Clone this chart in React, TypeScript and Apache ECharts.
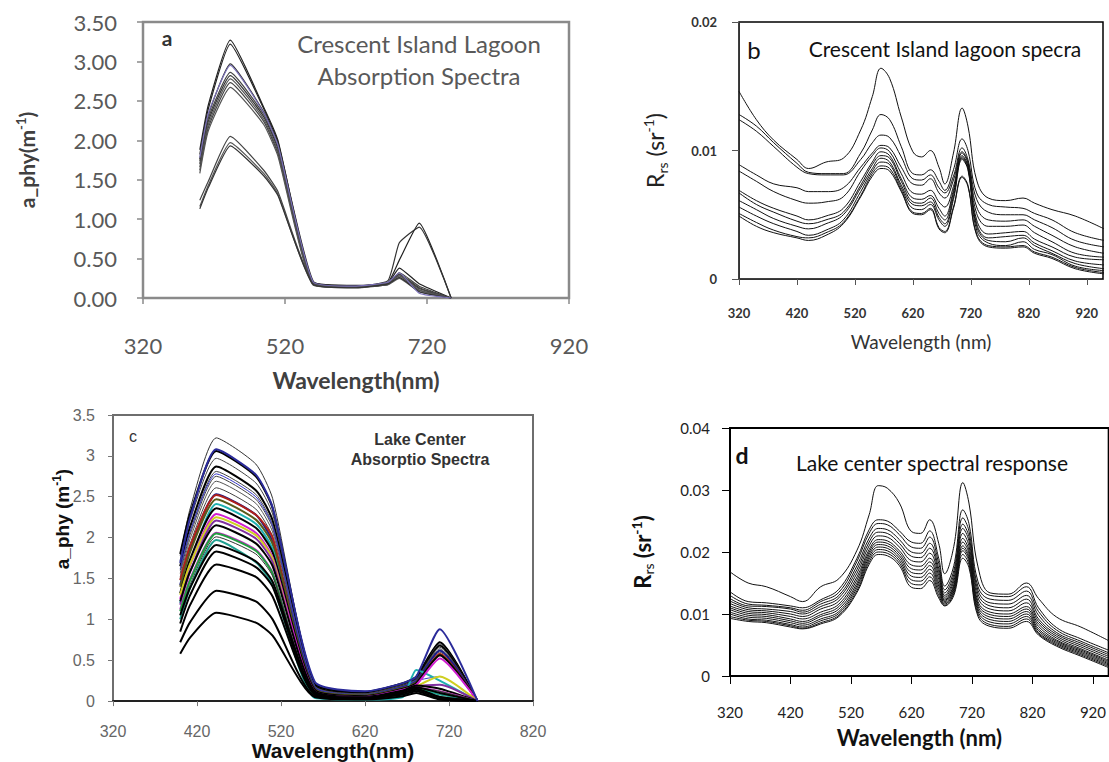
import React, { useEffect, useRef } from "react";
import * as echarts from "echarts";

// ---------- DATA ----------
// band centres (nm) used by the absorption spectra (panels a, c)
const bandWavelengths = [400, 412, 443, 490, 510, 560, 620, 665, 681, 709, 754];
// wavelengths (nm) sampled for the reflectance spectra (panels b, d)
const rrsWavelengths = [320, 350, 380, 420, 440, 470, 500, 530, 550, 565, 580, 600, 620, 635, 650, 665, 675, 690, 705, 715, 730, 750, 780, 810, 830, 860, 900, 950];

// panel a: Crescent Island lagoon a_phy (m^-1)
const lagoonAphy = [
  [1.88, 2.45, 3.27, 2.42, 2.0, 0.2, 0.16, 0.19, 0.38, 0.18, 0.0],
  [1.82, 2.4, 3.22, 2.4, 1.98, 0.21, 0.15, 0.2, 0.48, 0.95, 0.0],
  [1.76, 2.32, 2.97, 2.36, 1.95, 0.19, 0.15, 0.22, 0.7, 0.9, 0.0],
  [1.74, 2.28, 2.86, 2.33, 1.92, 0.18, 0.14, 0.18, 0.32, 0.15, 0.0],
  [1.7, 2.24, 2.82, 2.3, 1.89, 0.18, 0.14, 0.17, 0.3, 0.13, 0.0],
  [1.66, 2.2, 2.78, 2.27, 1.86, 0.17, 0.14, 0.2, 0.28, 0.12, 0.0],
  [1.62, 2.16, 2.73, 2.24, 1.83, 0.17, 0.13, 0.18, 0.26, 0.1, 0.0],
  [1.58, 2.12, 2.67, 2.2, 1.8, 0.16, 0.13, 0.17, 0.25, 0.08, 0.0],
  [1.24, 1.48, 2.05, 1.62, 1.35, 0.18, 0.14, 0.2, 0.3, 0.12, 0.0],
  [1.16, 1.43, 1.97, 1.58, 1.32, 0.17, 0.14, 0.19, 0.28, 0.1, 0.0],
  [1.13, 1.4, 1.93, 1.55, 1.3, 0.17, 0.13, 0.18, 0.26, 0.08, 0.0],
  [1.78, 2.34, 2.95, 2.35, 1.94, 0.2, 0.15, 0.2, 0.32, 0.06, 0.0],
];

// panel b: Crescent Island lagoon Rrs (x1e-3 sr^-1)
const lagoonRrs = [
  [14.6, 12.4, 10.8, 9.3, 8.6, 9.1, 9.4, 11.6, 14.2, 16.4, 15.6, 12.6, 9.9, 9.5, 10.0, 8.7, 7.4, 9.8, 13.3, 11.9, 7.7, 6.3, 6.1, 6.3, 5.9, 5.4, 4.9, 3.9],
  [12.8, 11.9, 10.6, 9.0, 8.3, 8.2, 8.2, 9.8, 11.6, 12.8, 12.4, 10.3, 8.2, 8.1, 8.5, 7.6, 6.9, 8.5, 10.9, 10.0, 6.7, 5.8, 5.6, 5.5, 5.1, 4.6, 3.6, 3.0],
  [12.4, 11.5, 10.3, 8.7, 8.2, 8.1, 8.1, 9.3, 10.6, 11.2, 11.0, 9.5, 7.8, 7.7, 8.1, 7.1, 6.7, 8.0, 10.2, 9.3, 6.2, 5.2, 5.0, 5.0, 4.6, 4.0, 3.0, 2.5],
  [8.9, 8.1, 7.4, 7.1, 6.8, 6.8, 7.1, 8.7, 9.8, 10.4, 10.2, 8.7, 7.4, 7.3, 7.8, 6.7, 6.3, 7.7, 9.9, 9.1, 5.6, 4.6, 4.5, 4.6, 4.1, 3.4, 2.5, 2.0],
  [8.4, 7.6, 6.8, 6.1, 5.9, 6.0, 6.4, 8.4, 9.6, 10.2, 9.9, 8.2, 6.7, 6.6, 6.9, 6.0, 5.6, 7.2, 9.8, 9.0, 5.1, 4.1, 4.1, 4.2, 3.6, 2.9, 2.0, 1.7],
  [6.9, 6.1, 5.5, 4.9, 4.6, 4.9, 5.5, 7.6, 9.1, 9.9, 9.6, 7.8, 6.3, 6.2, 6.5, 5.5, 4.9, 6.9, 9.6, 8.8, 4.6, 3.5, 3.6, 3.7, 3.1, 2.5, 1.7, 1.5],
  [6.7, 5.8, 5.2, 4.5, 4.3, 4.6, 5.2, 7.3, 8.9, 9.6, 9.4, 7.6, 6.0, 5.9, 6.3, 5.1, 4.6, 6.7, 9.5, 8.7, 4.3, 3.2, 3.3, 3.4, 2.8, 2.2, 1.4, 1.1],
  [6.1, 5.4, 4.7, 4.1, 3.9, 4.3, 5.0, 7.1, 8.6, 9.4, 9.1, 7.3, 5.8, 5.7, 6.0, 4.8, 4.3, 6.4, 9.4, 8.6, 4.1, 3.0, 2.9, 3.2, 2.6, 2.0, 1.2, 0.8],
  [5.6, 4.9, 4.3, 3.7, 3.4, 3.8, 4.6, 6.8, 8.4, 9.1, 8.9, 7.1, 5.5, 5.4, 5.8, 4.6, 4.1, 6.2, 9.3, 8.5, 3.8, 2.8, 2.6, 2.9, 2.3, 1.9, 1.0, 0.65],
  [5.1, 4.4, 3.8, 3.3, 3.2, 3.6, 4.4, 6.5, 8.2, 8.8, 8.6, 6.9, 5.2, 5.1, 5.5, 4.0, 3.7, 5.6, 8.0, 7.3, 3.5, 2.6, 2.5, 2.6, 2.1, 1.7, 0.9, 0.5],
  [4.9, 4.1, 3.6, 3.2, 3.0, 3.4, 4.3, 6.4, 8.0, 8.6, 8.4, 6.8, 5.1, 5.0, 5.4, 3.9, 3.6, 5.5, 7.9, 7.2, 3.4, 2.5, 2.4, 2.5, 2.0, 1.6, 0.8, 0.4],
];

// panel c: lake centre a_phy (m^-1)
const centerAphy = [
  [1.78, 2.36, 3.22, 2.9, 2.48, 0.22, 0.12, 0.22, 0.3, 0.72, 0],
  [1.8, 2.3, 3.06, 2.75, 2.36, 0.22, 0.11, 0.22, 0.3, 0.72, 0],
  [1.72, 2.22, 2.97, 2.67, 2.29, 0.2, 0.1, 0.21, 0.28, 0.7, 0],
  [1.65, 2.14, 2.87, 2.58, 2.21, 0.2, 0.1, 0.2, 0.28, 0.68, 0],
  [1.6, 2.08, 2.81, 2.53, 2.16, 0.19, 0.09, 0.2, 0.27, 0.66, 0],
  [1.56, 2.04, 2.75, 2.47, 2.12, 0.18, 0.09, 0.19, 0.26, 0.64, 0],
  [1.52, 1.99, 2.69, 2.42, 2.07, 0.18, 0.08, 0.18, 0.25, 0.62, 0],
  [1.48, 1.93, 2.61, 2.35, 2.01, 0.17, 0.08, 0.18, 0.25, 0.6, 0],
  [1.62, 2.08, 2.78, 2.5, 2.14, 0.18, 0.08, 0.18, 0.25, 0.3, 0],
  [1.42, 1.86, 2.53, 2.28, 1.95, 0.16, 0.07, 0.17, 0.24, 0.62, 0],
  [1.48, 1.9, 2.52, 2.28, 2.0, 0.08, 0.02, 0.1, 0.2, 0.58, 0],
  [1.4, 1.83, 2.47, 2.22, 1.92, 0.15, 0.07, 0.16, 0.23, 0.56, 0],
  [1.2, 1.68, 2.41, 2.17, 1.86, 0.04, 0.02, 0.05, 0.38, 0.25, 0],
  [1.32, 1.74, 2.36, 2.12, 1.82, 0.14, 0.06, 0.15, 0.22, 0.56, 0],
  [1.25, 1.67, 2.29, 2.06, 1.76, 0.12, 0.05, 0.14, 0.2, 0.52, 0],
  [1.3, 1.68, 2.25, 2.03, 1.74, 0.08, 0.04, 0.1, 0.18, 0.3, 0],
  [1.18, 1.59, 2.21, 1.99, 1.7, 0.1, 0.05, 0.12, 0.18, 0.2, 0],
  [1.22, 1.59, 2.15, 1.93, 1.65, 0.12, 0.05, 0.13, 0.19, 0.15, 0],
  [1.12, 1.5, 2.06, 1.85, 1.57, 0.08, 0.04, 0.1, 0.16, 0.12, 0],
  [1.1, 1.48, 2.05, 1.84, 1.56, 0.07, 0.03, 0.08, 0.15, 0.1, 0],
  [1.05, 1.43, 2.01, 1.8, 1.53, 0.1, 0.04, 0.1, 0.16, 0.12, 0],
  [1.0, 1.39, 1.97, 1.7, 1.42, 0.05, 0.02, 0.06, 0.14, 0.08, 0],
  [1.05, 1.39, 1.91, 1.71, 1.46, 0.1, 0.04, 0.12, 0.17, 0.1, 0],
  [0.95, 1.3, 1.83, 1.64, 1.4, 0.09, 0.04, 0.1, 0.15, 0.05, 0],
  [0.85, 1.18, 1.67, 1.52, 1.28, 0.08, 0.03, 0.1, 0.14, 0.05, 0],
  [0.72, 0.97, 1.35, 1.22, 1.0, 0.06, 0.03, 0.08, 0.12, 0.03, 0],
  [0.58, 0.78, 1.08, 0.96, 0.8, 0.05, 0.02, 0.06, 0.1, 0.02, 0],
  [1.69, 2.25, 3.08, 2.77, 2.37, 0.24, 0.12, 0.22, 0.3, 0.88, 0],
];

// panel d: lake centre Rrs (x1e-3 sr^-1)
const centerRrs = [
  [16.8, 15.0, 14.4, 12.8, 12.0, 14.4, 15.7, 20.3, 26.0, 30.7, 30.3, 27.9, 23.3, 23.0, 25.2, 21.4, 16.5, 20.9, 31.2, 27.9, 17.6, 13.4, 13.2, 15.0, 12.5, 9.5, 7.9, 5.5],
  [13.6, 12.0, 11.8, 11.3, 11.0, 12.3, 14.0, 19.0, 23.6, 25.2, 25.0, 23.4, 21.6, 21.4, 23.4, 19.0, 14.5, 17.8, 26.8, 24.6, 15.2, 13.0, 12.8, 14.4, 11.0, 7.8, 6.0, 4.0],
  [13.0, 11.6, 11.4, 11.0, 10.6, 12.0, 13.5, 18.5, 23.0, 24.6, 24.4, 22.8, 20.8, 20.6, 22.4, 18.2, 13.9, 17.0, 25.5, 23.4, 14.4, 12.4, 12.2, 13.7, 10.4, 7.4, 5.6, 3.6],
  [12.5, 11.3, 11.2, 10.8, 10.3, 11.6, 13.0, 17.8, 22.2, 23.8, 23.6, 22.0, 20.0, 19.8, 21.4, 17.4, 13.4, 16.4, 24.5, 22.5, 13.8, 11.8, 11.6, 13.0, 9.8, 7.0, 5.3, 3.3],
  [12.1, 11.0, 10.8, 10.4, 10.0, 11.2, 12.6, 17.2, 21.6, 23.2, 23.0, 21.4, 19.3, 19.1, 20.6, 16.8, 13.0, 15.8, 23.8, 21.8, 13.2, 11.3, 11.0, 12.4, 9.2, 6.7, 5.0, 3.0],
  [11.7, 10.7, 10.5, 10.0, 9.6, 10.8, 12.1, 16.6, 21.0, 22.6, 22.4, 20.8, 18.6, 18.4, 19.8, 16.2, 12.7, 15.3, 23.0, 21.0, 12.6, 10.8, 10.5, 11.8, 8.8, 6.4, 4.7, 2.7],
  [11.3, 10.4, 10.2, 9.6, 9.2, 10.3, 11.6, 16.0, 20.4, 22.0, 21.8, 20.2, 17.9, 17.7, 19.0, 15.6, 12.4, 14.8, 22.2, 20.3, 12.0, 10.3, 10.0, 11.2, 8.4, 6.1, 4.4, 2.4],
  [11.0, 10.1, 9.9, 9.2, 8.8, 9.9, 11.2, 15.5, 20.0, 21.6, 21.4, 19.8, 17.3, 17.1, 18.4, 15.0, 12.2, 14.5, 21.6, 19.8, 11.6, 9.9, 9.6, 10.8, 8.0, 5.8, 4.2, 2.2],
  [10.7, 9.8, 9.6, 8.9, 8.5, 9.6, 10.8, 15.0, 19.6, 21.2, 21.0, 19.4, 16.7, 16.5, 17.8, 14.5, 12.0, 14.2, 21.0, 19.3, 11.2, 9.5, 9.2, 10.4, 7.6, 5.6, 4.0, 2.0],
  [10.3, 9.5, 9.3, 8.6, 8.2, 9.2, 10.4, 14.6, 19.2, 20.8, 20.6, 19.0, 16.1, 15.9, 17.2, 14.0, 11.8, 13.9, 20.6, 18.9, 10.8, 9.1, 8.8, 10.0, 7.3, 5.4, 3.8, 1.8],
  [10.0, 9.2, 9.0, 8.3, 7.9, 8.9, 10.1, 14.2, 18.8, 20.4, 20.2, 18.6, 15.5, 15.3, 16.6, 13.5, 11.6, 13.6, 20.2, 18.5, 10.4, 8.7, 8.4, 9.6, 7.0, 5.2, 3.6, 1.6],
  [9.6, 9.0, 8.8, 8.1, 7.7, 8.6, 9.8, 13.8, 18.4, 20.0, 19.8, 18.2, 14.9, 14.7, 16.0, 13.0, 11.4, 13.3, 19.6, 18.0, 10.0, 8.3, 8.0, 9.2, 6.8, 5.0, 3.4, 1.4],
  [9.3, 8.8, 8.6, 7.9, 7.6, 8.4, 9.6, 13.5, 18.0, 19.6, 19.4, 17.8, 14.3, 14.1, 15.4, 12.6, 11.3, 13.0, 19.0, 17.5, 9.6, 8.0, 7.7, 8.8, 6.6, 4.8, 3.2, 1.2],
];

// axis tick values
const absorptionTicksA = [0, 0.5, 1, 1.5, 2, 2.5, 3, 3.5];
const wavelengthTicksA = [320, 520, 720, 920];

// line appearance (kept apart from the data)
const lagoonAphyColors = ["#222", "#222", "#333", "#444", "#333", "#555", "#444", "#555", "#444", "#555", "#333", "#7a70b8"];
const centerAphyColors = ["#333", "#000", "#444", "#000", "#444", "#444", "#555", "#444", "#3a3ac8", "#1a1a8c", "#b0201a", "#5a5a1a", "#1fb0b0", "#000", "#d020d0", "#d0d020", "#8030a0", "#000", "#c030c0", "#20a040", "#333", "#20a090", "#000", "#000", "#000", "#000", "#000", "#2b2b9a"];
const centerAphyWidths = [1, 2, 1, 2, 1, 1, 1, 1, 1, 2, 2, 2, 2, 2, 2, 2, 2, 2, 2, 2, 1, 2, 2, 2, 2, 2, 2, 2];

function buildSeries(idx: number, xs: number[], rows: number[][], colors: string[], widths: number[], smooth: number, scale: number) {
  return rows.map((row, i) => ({
    type: "line",
    xAxisIndex: idx,
    yAxisIndex: idx,
    data: xs.map((x, k) => [x, row[k] * scale]),
    showSymbol: false,
    symbol: "none",
    smooth,
    silent: true,
    lineStyle: { color: colors[i % colors.length], width: widths[i % widths.length] },
  }));
}

const LATO = "Lato";
const ARIAL = "Liberation Sans";

export default function App() {
  const ref = useRef<HTMLDivElement>(null);
  useEffect(() => {
    if (!ref.current) return;
    const chart = echarts.init(ref.current, undefined, { renderer: "svg" });
    const rrsFmt = (v: number) => (v === 0 ? "0" : v.toFixed(2));
    const option: any = {
      animation: false,
      backgroundColor: "#fff",
      grid: [
        { left: 143, top: 22, width: 426, height: 276, show: true, borderColor: "#8a8a8a", borderWidth: 2.5 },
        { left: 739, top: 22, width: 364, height: 257, show: true, borderColor: "#000", borderWidth: 1.5 },
        { left: 113, top: 415, width: 420, height: 287, show: true, borderColor: "#6e6e6e", borderWidth: 2 },
        { left: 730, top: 428, width: 384, height: 248, show: true, borderColor: "#000", borderWidth: 2 },
      ],
      xAxis: [
        {
          gridIndex: 0, type: "value", min: wavelengthTicksA[0], max: wavelengthTicksA[wavelengthTicksA.length - 1], interval: 200,
          axisLine: { show: true, lineStyle: { color: "#8a8a8a", width: 2 } },
          axisTick: { show: true, inside: false, length: 6, lineStyle: { color: "#8a8a8a", width: 1.5 } },
          splitLine: { show: false },
          axisLabel: { margin: 36, fontFamily: LATO, fontSize: 22, color: "#595959" },
          name: "Wavelength(nm)", nameLocation: "middle", nameGap: 70,
          nameTextStyle: { fontFamily: LATO, fontWeight: "bold", fontSize: 23, color: "#404040" },
        },
        {
          gridIndex: 1, type: "value", min: 320, max: 948, interval: 100,
          axisLine: { show: true, lineStyle: { color: "#333", width: 1 } },
          axisTick: { show: true, inside: false, length: 6, lineStyle: { color: "#555", width: 1 } },
          splitLine: { show: false },
          axisLabel: { margin: 27, fontFamily: LATO, fontSize: 13, fontWeight: "bold", color: "#333", showMaxLabel: false },
          name: "Wavelength (nm)", nameLocation: "middle", nameGap: 53,
          nameTextStyle: { fontFamily: LATO, fontSize: 19, color: "#333" },
        },
        {
          gridIndex: 2, type: "value", min: 320, max: 820, interval: 100,
          axisLine: { show: true, lineStyle: { color: "#222", width: 2 } },
          axisTick: { show: true, inside: false, length: 5, lineStyle: { color: "#777", width: 1 } },
          splitLine: { show: false },
          axisLabel: { margin: 22, fontFamily: ARIAL, fontSize: 16, color: "#666" },
          name: "Wavelength(nm)", nameLocation: "middle", nameGap: 38,
          nameTextStyle: { fontFamily: ARIAL, fontWeight: "bold", fontSize: 21, color: "#111", padding: [0, 0, 0, 20] },
        },
        {
          gridIndex: 3, type: "value", min: 320, max: 946, interval: 100,
          axisLine: { show: true, lineStyle: { color: "#000", width: 2 } },
          axisTick: { show: true, inside: false, length: 8, lineStyle: { color: "#000", width: 1 } },
          splitLine: { show: false },
          axisLabel: { margin: 28, fontFamily: LATO, fontSize: 15, color: "#222", showMaxLabel: false },
          name: "Wavelength (nm)", nameLocation: "middle", nameGap: 50,
          nameTextStyle: { fontFamily: LATO, fontWeight: "bold", fontSize: 22, color: "#111" },
        },
      ],
      yAxis: [
        {
          gridIndex: 0, type: "value", min: absorptionTicksA[0], max: absorptionTicksA[absorptionTicksA.length - 1], interval: 0.5,
          axisLine: { show: true, lineStyle: { color: "#8a8a8a", width: 2 } },
          axisTick: { show: true, inside: false, length: 6, lineStyle: { color: "#8a8a8a", width: 1.5 } },
          splitLine: { show: false },
          axisLabel: { margin: 26, fontFamily: LATO, fontSize: 22, color: "#595959", formatter: (v: number) => v.toFixed(2) },
          name: "{n|a_phy(m}{p|-1}{n|)}", nameLocation: "middle", nameRotate: 90, nameGap: 105,
          nameTextStyle: {
            rich: {
              n: { fontFamily: LATO, fontWeight: "bold", fontSize: 21, color: "#404040", lineHeight: 24 },
              p: { fontFamily: LATO, fontWeight: "bold", fontSize: 13, color: "#404040", lineHeight: 13, verticalAlign: "top" },
            },
          },
        },
        {
          gridIndex: 1, type: "value", min: 0, max: 0.02, interval: 0.01,
          axisLine: { show: true, lineStyle: { color: "#333", width: 1 } },
          axisTick: { show: true, inside: false, length: 7, lineStyle: { color: "#555", width: 1 } },
          splitLine: { show: false },
          axisLabel: { margin: 22, fontFamily: LATO, fontSize: 13, fontWeight: "bold", color: "#333", formatter: rrsFmt },
          name: "{n|R}{s|rs}{n| (sr}{p|-1}{n|)}", nameLocation: "middle", nameRotate: 90, nameGap: 70,
          nameTextStyle: {
            rich: {
              n: { fontFamily: LATO, fontSize: 23, color: "#222", lineHeight: 28 },
              s: { fontFamily: LATO, fontSize: 14, color: "#222", lineHeight: 14, verticalAlign: "bottom" },
              p: { fontFamily: LATO, fontSize: 14, color: "#222", lineHeight: 14, verticalAlign: "top" },
            },
          },
        },
        {
          gridIndex: 2, type: "value", min: 0, max: 3.5, interval: 0.5,
          axisLine: { show: true, lineStyle: { color: "#6e6e6e", width: 2 } },
          axisTick: { show: true, inside: false, length: 5, lineStyle: { color: "#777", width: 1 } },
          splitLine: { show: false },
          axisLabel: { margin: 18, fontFamily: ARIAL, fontSize: 16, color: "#666" },
        },
        {
          gridIndex: 3, type: "value", min: 0, max: 0.04, interval: 0.01,
          axisLine: { show: true, lineStyle: { color: "#000", width: 2 } },
          axisTick: { show: true, inside: false, length: 8, lineStyle: { color: "#000", width: 1 } },
          splitLine: { show: false },
          axisLabel: { margin: 20, fontFamily: LATO, fontSize: 15, color: "#222", formatter: rrsFmt },
          name: "{n|R}{s|rs}{n| (sr}{p|-1}{n|)}", nameLocation: "middle", nameRotate: 90, nameGap: 75,
          nameTextStyle: {
            rich: {
              n: { fontFamily: LATO, fontWeight: "bold", fontSize: 22, color: "#111", lineHeight: 26 },
              s: { fontFamily: LATO, fontSize: 14, color: "#111", lineHeight: 14, verticalAlign: "bottom" },
              p: { fontFamily: LATO, fontWeight: "bold", fontSize: 14, color: "#111", lineHeight: 14, verticalAlign: "top" },
            },
          },
        },
      ],
      graphic: [
        { type: "text", x: 167, y: 37, style: { text: "a", fontFamily: LATO, fontWeight: "bold", fontSize: 21, fill: "#333", align: "center", verticalAlign: "middle" } },
        { type: "text", x: 419, y: 43, style: { text: "Crescent Island Lagoon", fontFamily: LATO, fontSize: 24, fill: "#595959", align: "center", verticalAlign: "middle" } },
        { type: "text", x: 419, y: 75, style: { text: "Absorption Spectra", fontFamily: LATO, fontSize: 24, fill: "#595959", align: "center", verticalAlign: "middle" } },
        { type: "text", x: 754, y: 49, style: { text: "b", fontFamily: LATO, fontSize: 24, fill: "#111", align: "center", verticalAlign: "middle" } },
        { type: "text", x: 945, y: 48, style: { text: "Crescent Island lagoon specra", fontFamily: LATO, fontSize: 21, fill: "#111", align: "center", verticalAlign: "middle" } },
        { type: "text", x: 133, y: 436, style: { text: "c", fontFamily: ARIAL, fontSize: 16, fill: "#333", align: "center", verticalAlign: "middle" } },
        { type: "text", x: 420, y: 439, style: { text: "Lake Center", fontFamily: ARIAL, fontWeight: "bold", fontSize: 16, fill: "#333", align: "center", verticalAlign: "middle" } },
        { type: "text", x: 420, y: 459, style: { text: "Absorptio Spectra", fontFamily: ARIAL, fontWeight: "bold", fontSize: 16, fill: "#333", align: "center", verticalAlign: "middle" } },
        {
          type: "text", x: 62, y: 519, rotation: Math.PI / 2,
          style: {
            text: "{n|a_phy (m}{p|-1}{n|)}", align: "center", verticalAlign: "middle",
            rich: {
              n: { fontFamily: ARIAL, fontWeight: "bold", fontSize: 19, fill: "#111", lineHeight: 22 },
              p: { fontFamily: ARIAL, fontWeight: "bold", fontSize: 12, fill: "#111", lineHeight: 12, verticalAlign: "top" },
            },
          },
        },
        { type: "text", x: 742, y: 455, style: { text: "d", fontFamily: LATO, fontWeight: "bold", fontSize: 23, fill: "#111", align: "center", verticalAlign: "middle" } },
        { type: "text", x: 932, y: 462, style: { text: "Lake center spectral response", fontFamily: LATO, fontSize: 21, fill: "#111", align: "center", verticalAlign: "middle" } },
      ],
      series: [
        ...buildSeries(0, bandWavelengths, lagoonAphy, lagoonAphyColors, [1.2], 0.15, 1),
        ...buildSeries(1, rrsWavelengths, lagoonRrs, ["#111"], [1], 0.4, 0.001),
        ...buildSeries(2, bandWavelengths, centerAphy, centerAphyColors, centerAphyWidths, 0.2, 1),
        ...buildSeries(3, rrsWavelengths, centerRrs, ["#111"], [1], 0.4, 0.001),
      ],
    };
    chart.setOption(option);
    return () => chart.dispose();
  }, []);
  return <div ref={ref} style={{ position: "fixed", left: 0, top: 0, width: 1109, height: 762 }} />;
}
